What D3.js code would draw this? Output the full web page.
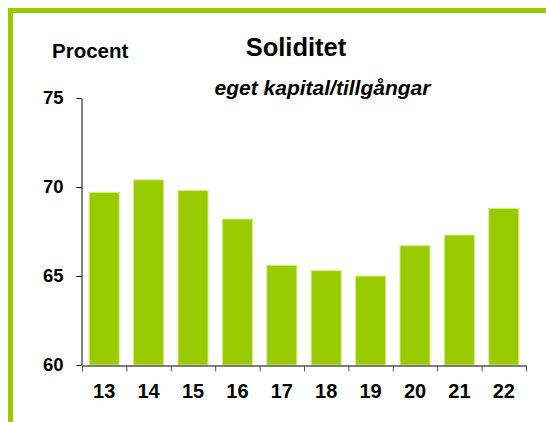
<!DOCTYPE html>
<html>
<head>
<meta charset="utf-8">
<script src="https://cdn.jsdelivr.net/npm/d3@7"></script>
<style>
  html, body { margin: 0; padding: 0; background: #fff; }
  svg { display: block; }
  text { font-family: "Liberation Sans", Arial, sans-serif; font-weight: bold; fill: #000; }
</style>
</head>
<body>
<svg id="chart" width="546" height="422"></svg>
<script>
// Soliditet (eget kapital / tillgångar), procent
const years = ["13", "14", "15", "16", "17", "18", "19", "20", "21", "22"];
const soliditet = [69.7, 70.4, 69.8, 68.2, 65.6, 65.3, 65.0, 66.7, 67.3, 68.8];
const yTicks = [60, 65, 70, 75];

const svg = d3.select("#chart");
const green = "#99cc00";

// Frame
svg.append("rect")
  .attr("x", 10.5).attr("y", 10.5)
  .attr("width", 700).attr("height", 600)
  .attr("fill", "none")
  .attr("stroke", green)
  .attr("stroke-width", 5);

const plot = { left: 82, right: 526, top: 98, bottom: 365 };

const x = d3.scaleBand()
  .domain(years)
  .range([plot.left, plot.right])
  .paddingInner(0.324)
  .paddingOuter(0.162);

const y = d3.scaleLinear()
  .domain([60, 75])
  .range([plot.bottom, plot.top]);

// Bars
svg.append("g").selectAll("rect")
  .data(years.map((yr, i) => ({ yr, v: soliditet[i] })))
  .join("rect")
  .attr("x", d => x(d.yr))
  .attr("y", d => y(d.v))
  .attr("width", x.bandwidth())
  .attr("height", d => y(60) - y(d.v))
  .attr("fill", green)
  .attr("stroke", "#d2eb86")
  .attr("stroke-width", 1);

// Y axis (line and ticks); labels drawn separately below
const yAxis = svg.append("g")
  .attr("transform", `translate(${plot.left - 0.5},0)`)
  .call(d3.axisLeft(y).tickValues(yTicks).tickSize(5).tickFormat("").tickSizeOuter(0));
yAxis.select(".domain").attr("stroke", "#000");
yAxis.selectAll(".tick line").attr("stroke", "#000");

svg.append("g").selectAll("text")
  .data(yTicks)
  .join("text")
  .attr("x", 63.5)
  .attr("y", d => y(d))
  .attr("dy", "0.35em")
  .attr("text-anchor", "end")
  .style("font-size", "18.5px")
  .text(d => d);

// X axis: tick marks at the category boundaries
const xEdges = d3.scaleLinear().domain([0, years.length]).range([plot.left, plot.right]);
const xAxis = svg.append("g")
  .attr("transform", `translate(0,${plot.bottom + 0.5})`)
  .call(d3.axisBottom(xEdges).ticks(years.length).tickSize(6).tickFormat("").tickSizeOuter(0));
xAxis.select(".domain").attr("stroke", "#000");
xAxis.selectAll(".tick line").attr("stroke", "#555");

// X labels centred in each category
svg.append("g").selectAll("text")
  .data(years)
  .join("text")
  .attr("x", d => x(d) + x.bandwidth() / 2)
  .attr("y", 398)
  .attr("text-anchor", "middle")
  .style("font-size", "20px")
  .text(d => d);

// Titles
svg.append("text")
  .attr("x", 52).attr("y", 57.5)
  .style("font-size", "20.5px")
  .text("Procent");

svg.append("text")
  .attr("x", 296).attr("y", 55.5)
  .attr("text-anchor", "middle")
  .style("font-size", "25.5px")
  .text("Soliditet");

svg.append("text")
  .attr("x", 322.5).attr("y", 95)
  .attr("text-anchor", "middle")
  .style("font-size", "21px")
  .style("font-style", "italic")
  .text("eget kapital/tillgångar");
</script>
</body>
</html>
